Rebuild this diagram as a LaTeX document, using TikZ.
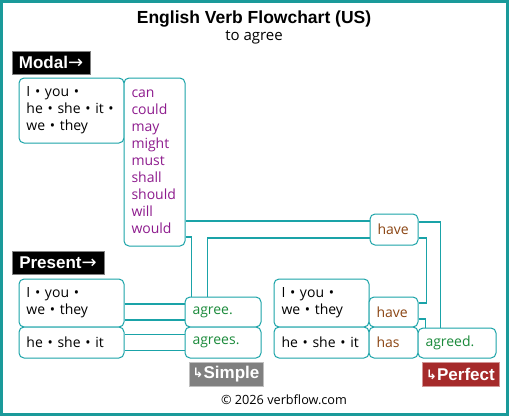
\documentclass[tikz,border=0pt]{standalone}
\usepackage{fontspec}
\setmainfont{Open Sans}
\newfontfamily\headfont{Liberation Sans}
\newfontfamily\arrowfont{DejaVu Sans}
\usepackage{xcolor}
\usetikzlibrary{calc,positioning}
\definecolor{pipecol}{HTML}{1AA3A8}
\definecolor{framecol}{HTML}{1A9A9A}
\definecolor{modalcol}{HTML}{8E1C8E}
\definecolor{auxcol}{HTML}{8B4513}
\definecolor{maincol}{HTML}{1A8A3A}
\definecolor{perfcol}{HTML}{A52A2A}
\newcommand{\toarrow}{{\arrowfont\mdseries\fontsize{18}{19}\selectfont →}}
\newcommand{\tensearrow}{\raisebox{1pt}{\arrowfont\bfseries\fontsize{13}{14}\selectfont ↳}}

\begin{document}
\begin{tikzpicture}
[x=1pt,y=-1pt,
 words/.style={draw=pipecol,fill=white,line width=1pt,rounded corners=5pt,
	inner xsep=7.5pt,inner ysep=0pt,align=left,font=\fontsize{14}{17}\selectfont},
 tag/.style={draw=gray,fill=black,text=white,inner sep=0pt,
	font=\headfont\bfseries\fontsize{17}{19}\selectfont},
 pipe/.style={draw=pipecol,line width=1.1pt}]
\useasboundingbox (0,0) rectangle (509,416);
\draw[framecol,line width=3pt] (1.5,1.5) rectangle (507.5,414.5);
%% heading
\node[font=\headfont\bfseries\fontsize{17.5}{20}\selectfont] (title) at (254,19) {English Verb Flowchart (US)};
\node[font=\fontsize{15}{18}\selectfont] (verb) at (254,37) {to agree};
%% modal
\node[tag,minimum width=78pt,minimum height=23pt] (modal) at (51,62.5) {Modal\toarrow};
\node[words,text width=90pt,minimum height=65pt] (mpron) at (71.5,110.5) {I • you •\\he • she • it •\\we • they};
\node[words,text width=46pt,minimum height=168pt,text=modalcol] (mverb) at (154.5,162)
	{can\\could\\may\\might\\must\\shall\\should\\will\\would};
\node[words,text width=33pt,minimum height=31pt,text=auxcol] (haveT) at (394,229.5) {have};
%% present
\node[tag,minimum width=92pt,minimum height=23pt] (present) at (58,262.5) {Present\toarrow};
\node[words,text width=90pt,minimum height=48pt] (ppron1) at (71.5,303) {I • you •\\we • they};
\node[words,text width=90pt,minimum height=31pt] (ppron2) at (71.5,342.5) {he • she • it};
\node[words,text width=61pt,minimum height=30pt,text=maincol] (agree) at (223,312) {agree.};
\node[words,text width=61pt,minimum height=31pt,text=maincol] (agrees) at (223,342.5) {agrees.};
%% perfect
\node[words,text width=80pt,minimum height=48pt] (fpron1) at (321.5,303) {I • you •\\we • they};
\node[words,text width=80pt,minimum height=31pt] (fpron2) at (321.5,342.5) {he • she • it};
\node[words,text width=34pt,minimum height=30pt,text=auxcol] (haveP) at (393.5,312) {have};
\node[words,text width=34pt,minimum height=31pt,text=auxcol] (has) at (393.5,342.5) {has};
\node[words,text width=63pt,minimum height=30pt,text=maincol] (agreed) at (457,343) {agreed.};
%% tense tags
\node[tag,fill=gray,draw=lightgray,minimum width=74pt,minimum height=24pt] (simple) at (226,374)
	{\tensearrow Simple};
\node[tag,fill=perfcol,draw=perfcol!50!white,minimum width=77pt,minimum height=24pt] (perfect) at (460.5,374)
	{\tensearrow Perfect};
\node[font=\fontsize{12.7}{15}\selectfont] (copy) at (284,400) {© 2026 verbflow.com};
%% pipes
\draw[pipe] ([yshift=8.5pt]haveT.west) -- ([yshift=8.5pt]haveT.west -| mverb.east);
\draw[pipe] ([yshift=-8.5pt]haveT.west) -| ([xshift=23pt]agree.north west);
\draw[pipe] ([yshift=-75pt]mverb.east) -| ([xshift=7pt]agree.north west);
\draw[pipe] ([yshift=7.5pt]haveT.east) -| ([xshift=23pt]agreed.north west);
\draw[pipe] ([yshift=-8.5pt]haveT.east) -- ++(8,0) |- ([yshift=9pt]haveP.east);
\draw[pipe] ([yshift=-7pt]haveP.east) -| ([xshift=8pt]agreed.north west);
\foreach \src/\dst in {ppron1/agree,ppron2/agrees}
	\foreach \dy in {8,-8}
	{
		\draw[pipe] ([yshift=\dy pt]\src.east |- \dst.west) -- ([yshift=\dy pt]\dst.west);
	};
\end{tikzpicture}
\end{document}
